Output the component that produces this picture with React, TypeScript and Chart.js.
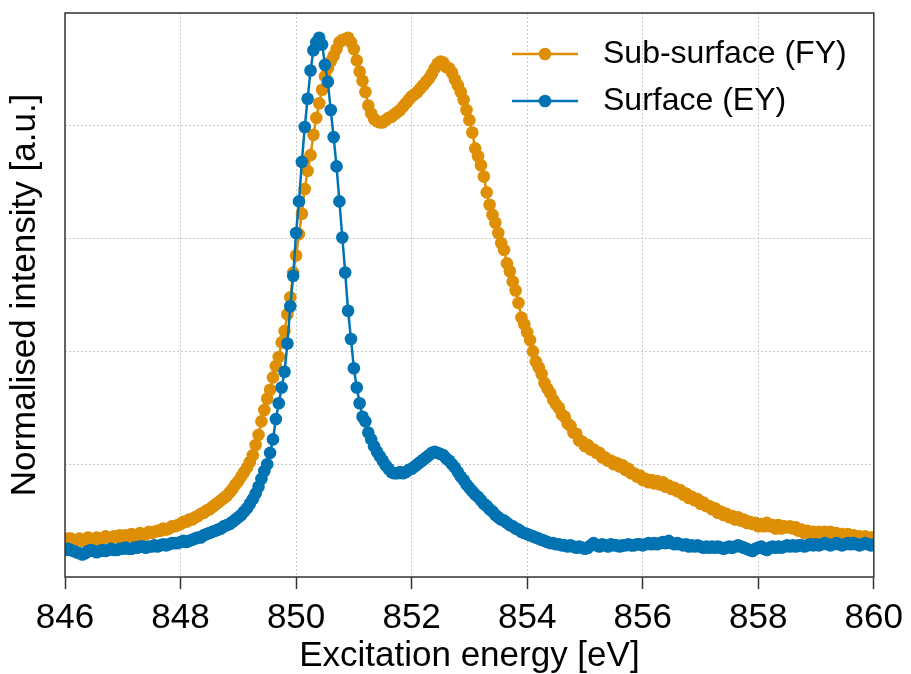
import React, { useEffect, useRef } from 'react';
import { Chart, registerables } from 'chart.js';

Chart.register(...registerables);

// Excitation energy grid (eV): first point and step of the scan
const energyStart = 846;
const energyStep = 0.05;

// x-axis tick labels (eV)
const xTicks = [846, 848, 850, 852, 854, 856, 858, 860];

// Sub-surface (FY) normalised intensity, one value per energy step
const subSurfaceFY = [
  0.33, 0.34, 0.34, 0.33, 0.32, 0.34, 0.32, 0.33, 0.35, 0.33,
  0.33, 0.35, 0.33, 0.34, 0.36, 0.35, 0.34, 0.36, 0.35, 0.37,
  0.35, 0.37, 0.36, 0.38, 0.36, 0.37, 0.39, 0.37, 0.38, 0.40,
  0.39, 0.40, 0.41, 0.41, 0.43, 0.42, 0.43, 0.45, 0.45, 0.46,
  0.47, 0.49, 0.49, 0.51, 0.51, 0.53, 0.54, 0.56, 0.57, 0.59,
  0.60, 0.62, 0.64, 0.66, 0.68, 0.70, 0.72, 0.75, 0.78, 0.82,
  0.85, 0.89, 0.93, 0.97, 1.02, 1.08, 1.17, 1.26, 1.38, 1.48,
  1.58, 1.66, 1.77, 1.87, 1.95, 2.08, 2.18, 2.33, 2.48, 2.70,
  2.85, 3.04, 3.22, 3.44, 3.60, 3.74, 3.92, 4.07, 4.20, 4.32,
  4.44, 4.51, 4.57, 4.62, 4.68, 4.74, 4.76, 4.77, 4.78, 4.74,
  4.68, 4.58, 4.48, 4.40, 4.30, 4.18, 4.11, 4.06, 4.04, 4.03,
  4.03, 4.05, 4.07, 4.08, 4.10, 4.12, 4.14, 4.17, 4.20, 4.23,
  4.26, 4.28, 4.30, 4.33, 4.36, 4.39, 4.42, 4.46, 4.51, 4.55,
  4.57, 4.56, 4.52, 4.51, 4.47, 4.41, 4.36, 4.30, 4.23, 4.14,
  4.05, 3.94, 3.80, 3.73, 3.65, 3.55, 3.41, 3.30, 3.21, 3.14,
  3.05, 2.96, 2.90, 2.78, 2.71, 2.62, 2.54, 2.43, 2.30, 2.24,
  2.17, 2.10, 2.00, 1.91, 1.86, 1.80, 1.72, 1.67, 1.63, 1.57,
  1.53, 1.50, 1.44, 1.42, 1.36, 1.34, 1.28, 1.27, 1.21, 1.20,
  1.16, 1.17, 1.13, 1.13, 1.10, 1.10, 1.06, 1.06, 1.03, 1.03,
  1.00, 1.01, 0.98, 0.99, 0.95, 0.96, 0.92, 0.92, 0.89, 0.90,
  0.86, 0.87, 0.84, 0.86, 0.83, 0.85, 0.82, 0.84, 0.80, 0.81,
  0.78, 0.79, 0.76, 0.77, 0.73, 0.74, 0.70, 0.71, 0.68, 0.69,
  0.65, 0.66, 0.63, 0.63, 0.60, 0.61, 0.57, 0.58, 0.55, 0.56,
  0.53, 0.54, 0.51, 0.53, 0.50, 0.51, 0.48, 0.49, 0.47, 0.48,
  0.45, 0.47, 0.45, 0.48, 0.45, 0.46, 0.43, 0.46, 0.43, 0.45,
  0.44, 0.45, 0.43, 0.44, 0.41, 0.42, 0.39, 0.41, 0.38, 0.40,
  0.38, 0.40, 0.37, 0.40, 0.38, 0.40, 0.37, 0.39, 0.37, 0.38,
  0.37, 0.38, 0.36, 0.37, 0.35, 0.36, 0.34, 0.36, 0.33, 0.35, 0.35,
];

// Surface (EY) normalised intensity, one value per energy step
const surfaceEY = [
  0.24, 0.25, 0.24, 0.23, 0.22, 0.21, 0.20, 0.21, 0.23, 0.24,
  0.23, 0.22, 0.23, 0.24, 0.23, 0.24, 0.25, 0.24, 0.24, 0.25,
  0.25, 0.26, 0.25, 0.25, 0.26, 0.26, 0.27, 0.27, 0.26, 0.27,
  0.27, 0.28, 0.27, 0.28, 0.29, 0.28, 0.29, 0.30, 0.30, 0.30,
  0.31, 0.32, 0.31, 0.32, 0.33, 0.34, 0.35, 0.35, 0.37, 0.38,
  0.39, 0.40, 0.41, 0.42, 0.43, 0.45, 0.46, 0.47, 0.49, 0.51,
  0.53, 0.55, 0.58, 0.61, 0.65, 0.69, 0.74, 0.80, 0.87, 0.94,
  1.00, 1.10, 1.22, 1.40, 1.54, 1.68, 1.82, 2.07, 2.40, 2.67,
  3.05, 3.33, 3.68, 3.99, 4.24, 4.49, 4.67, 4.74, 4.78, 4.72,
  4.54, 4.39, 4.14, 3.90, 3.64, 3.33, 3.01, 2.70, 2.36, 2.11,
  1.85, 1.68, 1.54, 1.42, 1.38, 1.28, 1.22, 1.16, 1.11, 1.07,
  1.03, 0.99, 0.96, 0.93, 0.92, 0.92, 0.93, 0.92, 0.93, 0.95,
  0.96, 0.98, 1.00, 1.02, 1.04, 1.06, 1.08, 1.10, 1.11, 1.10,
  1.09, 1.08, 1.05, 1.03, 1.00, 0.97, 0.93, 0.89, 0.86, 0.82,
  0.79, 0.76, 0.73, 0.71, 0.68, 0.65, 0.63, 0.60, 0.58, 0.55,
  0.53, 0.51, 0.50, 0.48, 0.46, 0.45, 0.43, 0.42, 0.40, 0.39,
  0.38, 0.37, 0.36, 0.35, 0.34, 0.33, 0.32, 0.31, 0.30, 0.30,
  0.29, 0.29, 0.28, 0.28, 0.27, 0.28, 0.27, 0.26, 0.27, 0.26,
  0.25, 0.26, 0.28, 0.30, 0.28, 0.27, 0.29, 0.28, 0.27, 0.29,
  0.28, 0.28, 0.27, 0.28, 0.28, 0.29, 0.28, 0.28, 0.29, 0.29,
  0.28, 0.29, 0.30, 0.29, 0.30, 0.29, 0.30, 0.31, 0.30, 0.32,
  0.30, 0.29, 0.30, 0.29, 0.28, 0.29, 0.27, 0.28, 0.27, 0.28,
  0.27, 0.26, 0.27, 0.26, 0.27, 0.26, 0.27, 0.26, 0.25, 0.26,
  0.27, 0.26, 0.27, 0.28, 0.27, 0.26, 0.25, 0.24, 0.23, 0.25,
  0.26, 0.27, 0.25, 0.24, 0.26, 0.27, 0.26, 0.27, 0.26, 0.27,
  0.28, 0.27, 0.28, 0.27, 0.28, 0.28, 0.27, 0.28, 0.29, 0.28,
  0.29, 0.28, 0.29, 0.30, 0.29, 0.28, 0.29, 0.30, 0.29, 0.28,
  0.29, 0.30, 0.29, 0.30, 0.29, 0.28, 0.29, 0.30, 0.29, 0.28, 0.29,
];

const seriesLabels = ['Sub-surface (FY)', 'Surface (EY)'];
const seriesColors = ['#DE8F05', '#0173B2'];

const FONT = '"Liberation Sans", Arial, Helvetica, sans-serif';

export default function App() {
  const ref = useRef<HTMLCanvasElement>(null);

  useEffect(() => {
    if (!ref.current) return;
    const toPoints = (vals: number[]) =>
      vals.map((y, i) => ({ x: +(energyStart + i * energyStep).toFixed(2), y }));

    const framePlugin = {
      id: 'frameBox',
      afterDatasetsDraw(chart: any) {
        const { ctx, chartArea: a } = chart;
        ctx.save();
        ctx.strokeStyle = '#333333';
        ctx.lineWidth = 1.5;
        ctx.strokeRect(a.left, a.top, a.right - a.left, a.bottom - a.top);
        ctx.restore();
      },
    };

    const legendPlugin = {
      id: 'insideLegend',
      afterDraw(chart: any) {
        const { ctx, chartArea: a } = chart;
        ctx.save();
        ctx.font = `32px ${FONT}`;
        ctx.textBaseline = 'middle';
        ctx.textAlign = 'left';
        seriesLabels.forEach((label, k) => {
          const y = a.top + 41 + k * 47;
          const x0 = a.left + 447;
          ctx.strokeStyle = seriesColors[k];
          ctx.lineWidth = 2.5;
          ctx.beginPath();
          ctx.moveTo(x0, y);
          ctx.lineTo(x0 + 66, y);
          ctx.stroke();
          ctx.fillStyle = seriesColors[k];
          ctx.beginPath();
          ctx.arc(x0 + 33, y, 6.3, 0, Math.PI * 2);
          ctx.fill();
          ctx.fillStyle = '#000000';
          ctx.fillText(label, x0 + 91, y);
        });
        ctx.restore();
      },
    };

    const series = [subSurfaceFY, surfaceEY];
    const chart = new Chart(ref.current, {
      type: 'line',
      data: {
        datasets: series.map((vals, k) => ({
          label: seriesLabels[k],
          data: toPoints(vals),
          borderColor: seriesColors[k],
          backgroundColor: seriesColors[k],
          pointBackgroundColor: seriesColors[k],
          pointBorderColor: seriesColors[k],
          pointBorderWidth: 0,
          pointRadius: 6.3,
          pointHoverRadius: 6.3,
          borderWidth: 2.5,
          tension: 0,
          fill: false,
          clip: 0,
          order: k === 0 ? 1 : 0,
        })),
      },
      options: {
        responsive: false,
        animation: false,
        events: [],
        layout: { padding: { top: 13, right: 34, left: 0, bottom: 0 } },
        plugins: {
          legend: { display: false },
          tooltip: { enabled: false },
        },
        scales: {
          x: {
            type: 'linear',
            min: xTicks[0],
            max: xTicks[xTicks.length - 1],
            afterBuildTicks: (s: any) => {
              s.ticks = xTicks.map((v) => ({ value: v }));
            },
            ticks: {
              font: { family: FONT, size: 35 },
              color: '#000000',
              padding: 8,
              maxRotation: 0,
              autoSkip: false,
            },
            grid: {
              color: '#cccccc',
              lineWidth: 1,
              drawTicks: true,
              tickLength: 12,
              tickColor: '#333333',
              tickWidth: 1.5,
              tickBorderDash: [],
            },
            border: { display: false, dash: [2, 2] },
            title: {
              display: true,
              text: 'Excitation energy [eV]',
              color: '#000000',
              font: { family: FONT, size: 35, lineHeight: 1 },
              padding: { top: 0, bottom: 0 },
            },
            afterFit: (s: any) => {
              s.height = 97;
            },
          },
          y: {
            type: 'linear',
            min: 0,
            max: 5,
            ticks: { display: false, stepSize: 1 },
            grid: { color: '#cccccc', lineWidth: 1, drawTicks: false },
            border: { display: false, dash: [2, 2] },
            title: {
              display: true,
              text: 'Normalised intensity [a.u.]',
              color: '#000000',
              font: { family: FONT, size: 35, lineHeight: 1 },
              padding: { top: 8, bottom: 0 },
            },
            afterFit: (s: any) => {
              s.width = 65;
            },
          },
        },
      },
      plugins: [framePlugin, legendPlugin],
    } as any);

    return () => chart.destroy();
  }, []);

  return (
    <div style={{ position: 'fixed', left: 0, top: 0, width: 911, height: 674, background: '#ffffff' }}>
      <canvas ref={ref} width={911} height={674} style={{ display: 'block' }} />
    </div>
  );
}
